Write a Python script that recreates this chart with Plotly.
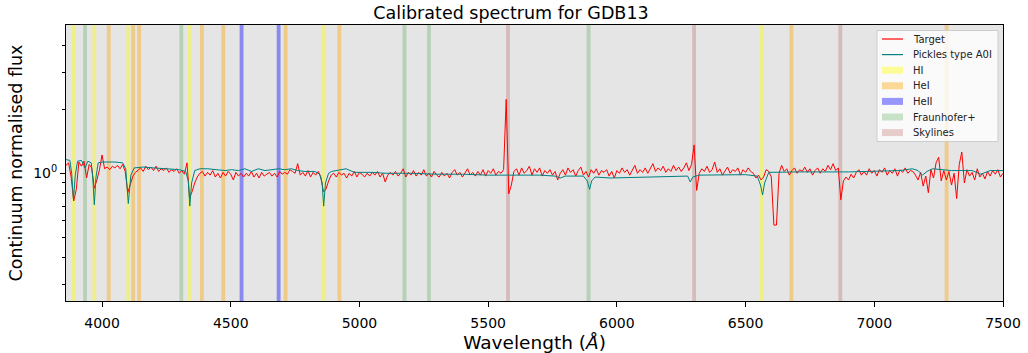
import plotly.graph_objects as go
import math

# ---------------- data ----------------
wl_start, wl_step, wl_stop = 3860, 10, 7500
target_wl = list(range(wl_start, wl_stop + 1, wl_step))
target_flux = [
    1.09, 1.12, 0.96, 0.74, 0.84, 1.13, 1.08, 1.14, 0.95, 1.10,   # 3860-3950
    1.06, 0.85, 0.93, 1.04, 1.22, 1.05, 1.07, 1.04, 1.08, 1.06,   # 3960-4050
    1.09, 1.05, 1.10, 1.02, 0.81, 0.88, 0.97, 1.01, 1.04, 1.06,   # 4060-4150
    1.02, 1.08, 1.04, 1.07, 1.03, 1.08, 1.02, 1.05, 1.03, 1.06,   # 4160-4250
    1.01, 1.04, 1.02, 1.05, 1.00, 1.03, 0.99, 1.12, 0.77, 0.82,   # 4260-4350
    0.90, 0.96, 1.00, 1.02, 0.97, 1.01, 0.98, 1.03, 0.96, 1.00,   # 4360-4450
    0.95, 1.01, 0.97, 1.02, 0.99, 0.93, 1.01, 0.97, 1.00, 0.96,   # 4460-4550
    1.00, 0.97, 1.02, 0.96, 1.00, 0.95, 1.01, 0.97, 0.99, 1.01,   # 4560-4650
    0.97, 1.00, 0.96, 1.02, 0.99, 1.01, 0.99, 1.04, 1.02, 1.00,   # 4660-4750
    1.11, 0.98, 1.01, 0.97, 1.03, 0.96, 1.01, 0.98, 1.02, 0.96,   # 4760-4850
    0.82, 0.84, 0.92, 0.98, 1.00, 0.96, 1.01, 0.98, 1.00, 0.95,   # 4860-4950
    1.00, 0.97, 1.02, 0.96, 1.01, 0.99, 0.96, 1.00, 0.97, 1.01,   # 4960-5050
    0.98, 1.02, 0.96, 1.00, 0.91, 0.98, 1.01, 0.98, 1.02, 0.97,   # 5060-5150
    1.00, 1.05, 0.96, 1.01, 0.98, 1.03, 0.97, 1.01, 0.98, 1.04,   # 5160-5250
    0.97, 1.00, 0.96, 1.02, 0.98, 0.96, 1.01, 0.97, 1.00, 0.95,   # 5260-5350
    1.01, 1.04, 0.98, 1.01, 0.96, 1.00, 1.05, 0.98, 1.01, 0.97,   # 5360-5450
    1.02, 0.98, 1.04, 0.97, 1.03, 1.00, 1.05, 0.98, 1.02, 1.00,   # 5460-5550
    1.04, 2.23, 0.80, 0.88, 1.02, 1.05, 0.98, 1.06, 1.00, 1.03,   # 5560-5650
    1.08, 0.98, 1.05, 1.01, 1.06, 0.97, 1.03, 1.00, 1.04, 0.98,   # 5660-5750
    1.02, 0.93, 1.00, 1.04, 0.98, 1.06, 1.01, 1.04, 0.97, 1.03,   # 5760-5850
    1.07, 0.98, 1.02, 0.96, 1.04, 1.00, 1.05, 0.98, 1.03, 1.01,   # 5860-5950
    1.04, 0.97, 1.02, 0.95, 1.03, 1.00, 1.06, 1.01, 1.04, 0.98,   # 5960-6050
    1.03, 1.09, 1.00, 1.04, 1.01, 1.06, 1.00, 1.05, 1.11, 1.02,   # 6060-6150
    1.06, 1.03, 1.08, 1.01, 1.05, 1.02, 1.09, 1.03, 1.07, 1.02,   # 6160-6250
    1.06, 1.12, 1.03, 1.10, 1.36, 0.83, 1.00, 1.05, 1.02, 1.08,   # 6260-6350
    1.01, 1.04, 1.13, 1.01, 1.05, 0.98, 1.03, 1.07, 1.00, 1.04,   # 6360-6450
    1.02, 1.06, 0.98, 1.04, 1.01, 1.06, 1.02, 1.00, 0.95, 0.98,   # 6460-6550
    0.93, 0.96, 1.04, 1.02, 0.96, 0.57, 0.57, 1.00, 1.09, 1.02,   # 6560-6650
    1.05, 0.98, 1.03, 1.06, 1.00, 1.04, 1.02, 1.07, 1.01, 1.05,   # 6660-6750
    0.98, 1.03, 1.06, 1.00, 1.05, 1.02, 1.09, 1.04, 1.11, 1.03,   # 6760-6850
    1.06, 0.75, 0.92, 0.96, 0.93, 0.99, 0.95, 1.01, 1.04, 0.98,   # 6860-6950
    1.02, 0.98, 1.05, 1.00, 1.03, 0.97, 1.04, 1.01, 1.06, 0.98,   # 6960-7050
    1.03, 1.00, 1.05, 0.97, 1.04, 1.01, 1.06, 1.00, 1.03, 1.02,   # 7060-7150
    0.98, 0.93, 1.01, 0.87, 0.97, 0.81, 1.04, 0.95, 1.12, 1.19,   # 7160-7250
    0.92, 1.03, 0.93, 1.02, 0.88, 1.00, 0.76, 1.10, 1.26, 0.90,   # 7260-7350
    1.04, 0.97, 1.01, 0.93, 1.05, 0.96, 1.00, 0.94, 1.02, 0.97,   # 7360-7450
    1.03, 0.99, 1.04, 0.96, 1.00,                                 # 7460-7500
]

model_wl = [
    3860, 3875, 3882, 3889, 3896, 3905, 3920, 3934, 3945, 3958,
    3964, 3970, 3976, 3985, 4000, 4050, 4080, 4092, 4102, 4112,
    4125, 4160, 4200, 4250, 4300, 4325, 4335, 4341, 4348, 4360,
    4380, 4410, 4440, 4478, 4503, 4530, 4555, 4581, 4607, 4633,
    4660, 4685, 4710, 4736, 4760, 4788, 4827, 4845, 4855, 4861,
    4868, 4880, 4892, 4918, 4948, 4980, 5050, 5100, 5200, 5300,
    5400, 5500, 5600, 5700, 5760, 5780, 5800, 5870, 5885, 5894,
    5902, 5915, 5975, 6088, 6218, 6275, 6285, 6295, 6320, 6400,
    6500, 6545, 6558, 6566, 6574, 6590, 6700, 6900, 7030, 7100,
    7148, 7170, 7187, 7205, 7226, 7300, 7380, 7414, 7450, 7500,
]
model_flux = [
    1.16, 1.15, 1.00, 0.75, 0.98, 1.14, 1.15, 1.06, 1.14, 1.12,
    0.95, 0.71, 0.95, 1.12, 1.13, 1.13, 1.12, 1.05, 0.72, 0.98,
    1.06, 1.07, 1.06, 1.05, 1.04, 1.02, 0.92, 0.70, 0.90, 1.03,
    1.05, 1.05, 1.04, 1.03, 1.04, 1.03, 1.05, 1.02, 1.05, 1.03,
    1.04, 1.05, 1.04, 1.05, 1.03, 1.02, 1.02, 0.99, 0.90, 0.70,
    0.90, 1.00, 1.02, 1.03, 1.05, 1.01, 1.01, 1.00, 1.00, 0.99,
    0.99, 0.98, 0.98, 0.98, 0.97, 0.95, 0.97, 0.97, 0.92, 0.84,
    0.92, 0.96, 0.95, 0.96, 0.97, 0.97, 0.91, 0.96, 0.98, 0.98,
    0.985, 0.97, 0.88, 0.79, 0.90, 1.01, 1.015, 1.015, 1.02, 1.03,
    1.05, 1.03, 0.98, 1.02, 1.05, 1.03, 1.03, 0.99, 1.03, 1.03,
]

HI_lines = [3889, 3970, 4102, 4341, 4861, 6563]
HeI_lines = [4026, 4121, 4144, 4388, 4471, 4713, 4922, 6678, 7281]
HeII_lines = [4542, 4686]
Fraunhofer_lines = [3934, 4308, 5175, 5270, 5890]
Sky_lines = [5577, 6300, 6868]

x_ticks = [4000, 4500, 5000, 5500, 6000, 6500, 7000, 7500]
y_minor_ticks = [0.3, 0.4, 0.5, 0.6, 0.7, 0.8, 0.9, 2, 3, 4]

# ---------------- figure ----------------
X_RANGE = [3860, 7500]
Y_RANGE = [0.25, 5.0]
BAND_HALF = 7.5
W, H = 1028, 353
ML, MR, MT, MB = 66, 25, 25, 52
PW, PH = W - ML - MR, H - MT - MB

fig = go.Figure()

band_sets = [
    ("HI", HI_lines, "rgba(255,255,0,0.4)"),
    ("HeI", HeI_lines, "rgba(255,165,0,0.4)"),
    ("HeII", HeII_lines, "rgba(0,0,255,0.4)"),
    ("Fraunhofer+", Fraunhofer_lines, "rgba(0,128,0,0.2)"),
    ("Skylines", Sky_lines, "rgba(165,42,42,0.22)"),
]

for name, lines, col in band_sets:
    xs, ys = [], []
    for c in lines:
        xs += [c - BAND_HALF, c - BAND_HALF, c + BAND_HALF, c + BAND_HALF, None]
        ys += [Y_RANGE[0] * 0.5, Y_RANGE[1] * 2, Y_RANGE[1] * 2, Y_RANGE[0] * 0.5, None]
    fig.add_trace(go.Scatter(
        x=xs, y=ys, mode="lines", fill="toself", fillcolor=col,
        line=dict(width=0, color=col), name=name, showlegend=False,
        hoverinfo="skip",
    ))

fig.add_trace(go.Scatter(
    x=target_wl, y=target_flux, mode="lines", name="Target",
    line=dict(color="red", width=1), showlegend=False,
))
fig.add_trace(go.Scatter(
    x=model_wl, y=model_flux, mode="lines", name="Pickles type A0I",
    line=dict(color="teal", width=1), showlegend=False,
))

# ---------------- legend (drawn in paper coordinates) ----------------
def px_x(p):
    return (p - ML) / PW

def px_y(p):
    return (H - MB - p) / PH

shapes = []
annotations = []
shapes.append(dict(type="rect", xref="paper", yref="paper",
                   x0=px_x(877), x1=px_x(998), y0=px_y(141.5), y1=px_y(30.5),
                   fillcolor="rgba(255,255,255,0.8)", line=dict(color="#cccccc", width=1),
                   layer="above"))
legend_entries = [
    ("Target", "line", "red"),
    ("Pickles type A0I", "line", "teal"),
    ("HI", "patch", "rgba(255,255,0,0.4)"),
    ("HeI", "patch", "rgba(255,165,0,0.4)"),
    ("HeII", "patch", "rgba(0,0,255,0.4)"),
    ("Fraunhofer+", "patch", "rgba(0,128,0,0.2)"),
    ("Skylines", "patch", "rgba(165,42,42,0.22)"),
]
row0, row_step = 39.0, 15.6
for i, (label, kind, col) in enumerate(legend_entries):
    yc = row0 + i * row_step
    if kind == "line":
        shapes.append(dict(type="line", xref="paper", yref="paper",
                           x0=px_x(882), x1=px_x(903), y0=px_y(yc), y1=px_y(yc),
                           line=dict(color=col, width=1.2), layer="above"))
    else:
        shapes.append(dict(type="rect", xref="paper", yref="paper",
                           x0=px_x(882), x1=px_x(903), y0=px_y(yc + 3.5), y1=px_y(yc - 3.5),
                           fillcolor=col, line=dict(width=0), layer="above"))
    annotations.append(dict(text=label, xref="paper", yref="paper",
                            x=px_x(911), y=px_y(yc), xanchor="left", yanchor="middle",
                            showarrow=False, font=dict(size=10, color="#222222")))

fig.update_layout(
    width=W, height=H,
    margin=dict(l=ML, r=MR, t=MT, b=MB),
    paper_bgcolor="white",
    plot_bgcolor="#e5e5e5",
    font=dict(family="DejaVu Sans", size=14, color="black"),
    title=dict(
        text="Calibrated spectrum for GDB13",
        x=px_x(511), xref="paper", xanchor="center",
        y=0.963, yref="container", yanchor="middle",
        font=dict(size=17.5, color="black"),
    ),
    showlegend=False,
    shapes=shapes,
    annotations=annotations,
)

fig.update_xaxes(
    range=X_RANGE, automargin=False,
    tickvals=x_ticks, ticktext=[str(t) for t in x_ticks],
    ticks="outside", ticklen=5, tickwidth=1, tickcolor="black",
    ticklabelstandoff=4,
    showline=True, linecolor="black", linewidth=1, mirror=True,
    showgrid=False, zeroline=False,
    tickfont=dict(size=14),
    title=dict(text="Wavelength (<i>Å</i>)", font=dict(size=18.5), standoff=6),
)
fig.update_yaxes(
    type="log", automargin=False,
    range=[math.log10(Y_RANGE[0]), math.log10(Y_RANGE[1])],
    tickvals=[1], ticktext=["10<sup>0</sup>"],
    ticks="outside", ticklen=5, tickwidth=1, tickcolor="black",
    minor=dict(tickmode="array", tickvals=y_minor_ticks, ticks="outside",
               ticklen=3, tickcolor="black", showgrid=False),
    showline=True, linecolor="black", linewidth=1, mirror=True,
    showgrid=False, zeroline=False,
    tickfont=dict(size=14),
    title=dict(text="Continuum normalised flux", font=dict(size=17.5), standoff=6),
)

fig.write_html("out.html")
